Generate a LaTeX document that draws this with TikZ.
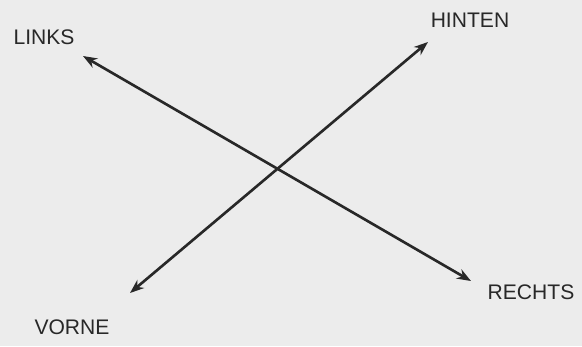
\documentclass[tikz,border=0pt]{standalone}
\usepackage{fontspec}
\setmainfont{Liberation Sans}
\definecolor{bgcolor}{RGB}{236,236,236}
\definecolor{inkcolor}{RGB}{40,40,40}
\usetikzlibrary{arrows.meta}

\begin{document}
\begin{tikzpicture}[x=0.02cm,y=-0.02cm,
            lbl/.style={text=inkcolor, font=\fontsize{12}{14}\selectfont, inner sep=0pt},
            arr/.style={{Stealth[length=8pt,width=6pt]}-{Stealth[length=8pt,width=6pt]}, inkcolor, line width=1.5pt}
          ]
            \fill[bgcolor] (0,0) rectangle (582,346);
            \useasboundingbox (0,0) rectangle (582,346);
            \node[lbl] (links)  at (44,37)   {LINKS};
            \node[lbl] (hinten) at (470,20)  {HINTEN};
            \node[lbl] (vorne)  at (72,327)  {VORNE};
            \node[lbl] (rechts) at (531,292) {RECHTS};
            \coordinate (lt) at (83,56);
            \coordinate (rt) at (471,281);
            \coordinate (ht) at (428,42);
            \coordinate (vt) at (130,293);
            \draw[arr] (lt) -- (rt);
            \draw[arr] (vt) -- (ht);
          \end{tikzpicture}
\end{document}
